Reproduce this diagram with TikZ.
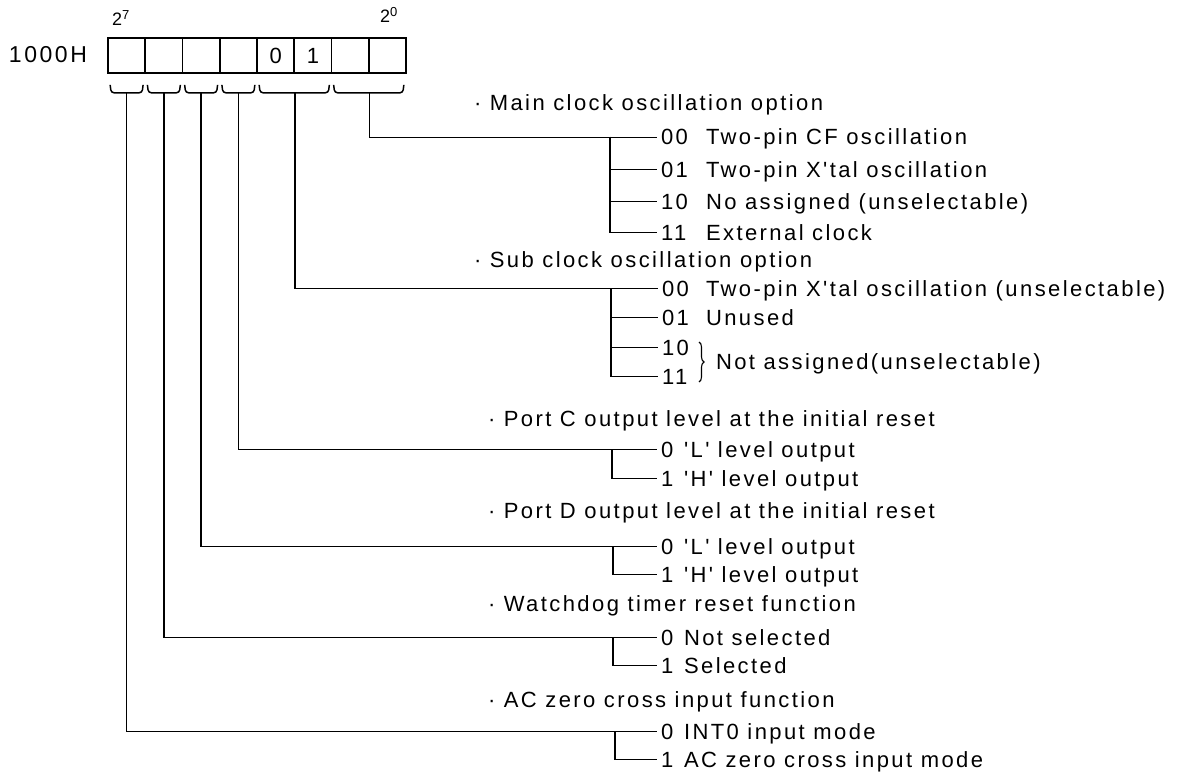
\documentclass[tikz,border=0pt]{standalone}
\usepackage{fontspec}
\setmainfont{Liberation Sans}[LetterSpace=11,Ligatures=TeXOff]
\begin{document}
\begin{tikzpicture}[x=1pt,y=-1pt,line width=1.7pt,
  txt/.style={anchor=base west,inner sep=0pt,outer sep=0pt,font=\fontsize{22}{24}\selectfont},
  code/.style={txt,outer xsep=4pt},
  cellbox/.style={draw,minimum width=37.25pt,minimum height=35pt,inner sep=0pt,line width=1.7pt},
  bitbrace/.style={rounded corners=3pt,line width=1.5pt},
  thinbrace/.style={decorate,decoration={brace,amplitude=5pt},line width=1.1pt}]
\usetikzlibrary{decorations.pathreplacing}
\useasboundingbox (0,0) rectangle (1183,773);
% register
\node[txt,font=\fontsize{23}{24}\selectfont] (addr) at (9,63) {1000H};
\foreach \i in {0,...,7} \node[cellbox] (c\i) at ({108+37.25*(\i+0.5)},55.5) {};
\node[txt,anchor=center] (v4) at (c4.center) {0};
\node[txt,anchor=center] (v5) at (c5.center) {1};
\node[txt,font=\fontsize{18}{18}\selectfont] (hi) at (112,26) {2\raisebox{6pt}{\fontsize{13}{13}\selectfont 7}};
\node[txt,font=\fontsize{18}{18}\selectfont] (lo) at (380,23) {2\raisebox{6pt}{\fontsize{13}{13}\selectfont 0}};
% braces under the bits
\foreach \i in {0,...,3} {
  \draw[bitbrace] ([xshift=3pt,yshift=-11pt]c\i.south west) -- ([xshift=4pt,yshift=-19pt]c\i.south west)
     -- ([xshift=-4pt,yshift=-19pt]c\i.south east) -- ([xshift=-3pt,yshift=-11pt]c\i.south east);
  \coordinate (t\i) at ([yshift=-19pt]c\i.south);
}
\draw[bitbrace] ([xshift=3pt,yshift=-11pt]c4.south west) -- ([xshift=4pt,yshift=-19pt]c4.south west)
     -- ([xshift=-4pt,yshift=-19pt]c5.south east) -- ([xshift=-3pt,yshift=-11pt]c5.south east);
\coordinate (t4) at ([yshift=-19pt]c4.south east);
\draw[bitbrace] ([xshift=3pt,yshift=-11pt]c6.south west) -- ([xshift=4pt,yshift=-19pt]c6.south west)
     -- ([xshift=-4pt,yshift=-19pt]c7.south east) -- ([xshift=-3pt,yshift=-11pt]c7.south east);
\coordinate (t5) at ([yshift=-19pt]c6.south east);

% main clock
\node[txt] (mlab) at (474,111) {· Main clock oscillation option};
\node[code] (m0) at (657,145) {00}; \node[txt] at (706,145) {Two-pin CF oscillation};
\node[code] (m1) at (657,177) {01}; \node[txt] at (706,177) {Two-pin X'tal oscillation};
\node[code] (m2) at (657,209) {10}; \node[txt] at (706,209) {No assigned (unselectable)};
\node[code] (m3) at (657,240) {11}; \node[txt] at (706,240) {External clock};
\coordinate (mj) at (610,137);
\draw (t5) |- (m0.west);
\draw (mj) |- (m1.west); \draw (mj) |- (m2.west); \draw (mj) |- (m3.west);

% sub clock
\node[txt] (slab) at (474,267) {· Sub clock oscillation option};
\node[code] (s0) at (658,296) {00}; \node[txt] at (706,296) {Two-pin X'tal oscillation (unselectable)};
\node[code] (s1) at (658,325) {01}; \node[txt] at (706,325) {Unused};
\node[code] (s2) at (658,355) {10};
\node[code] (s3) at (658,384) {11};
\draw[thinbrace] (699,342) -- (699,382);
\node[txt] (na) at (716,369) {Not assigned(unselectable)};
\coordinate (sj) at (611,288);
\draw (t4) |- (s0.west);
\draw (sj) |- (s1.west); \draw (sj) |- (s2.west); \draw (sj) |- (s3.west);

% port C
\node[txt] (clab) at (488,426) {· Port C output level at the initial reset};
\node[code] (pc0) at (657,457) {0}; \node[txt] at (684,457) {'L' level output};
\node[code] (pc1) at (657,486) {1}; \node[txt] at (684,486) {'H' level output};
\coordinate (cj) at (612,449);
\draw (t3) |- (pc0.west); \draw (cj) |- (pc1.west);

% port D
\node[txt] (dlab) at (488,518) {· Port D output level at the initial reset};
\node[code] (pd0) at (657,554) {0}; \node[txt] at (684,554) {'L' level output};
\node[code] (pd1) at (657,582) {1}; \node[txt] at (684,582) {'H' level output};
\coordinate (dj) at (613,546);
\draw (t2) |- (pd0.west); \draw (dj) |- (pd1.west);

% watchdog
\node[txt] (wlab) at (488,611) {· Watchdog timer reset function};
\node[code] (w0) at (657,645) {0}; \node[txt] at (684,645) {Not selected};
\node[code] (w1) at (657,673) {1}; \node[txt] at (684,673) {Selected};
\coordinate (wj) at (613,637);
\draw (t1) |- (w0.west); \draw (wj) |- (w1.west);

% AC zero cross
\node[txt] (alab) at (488,707) {· AC zero cross input function};
\node[code] (a0) at (657,739) {0}; \node[txt] at (684,739) {INT0 input mode};
\node[code] (a1) at (657,767) {1}; \node[txt] at (684,767) {AC zero cross input mode};
\coordinate (aj) at (615,731);
\draw (t0) |- (a0.west); \draw (aj) |- (a1.west);
\end{tikzpicture}
\end{document}
